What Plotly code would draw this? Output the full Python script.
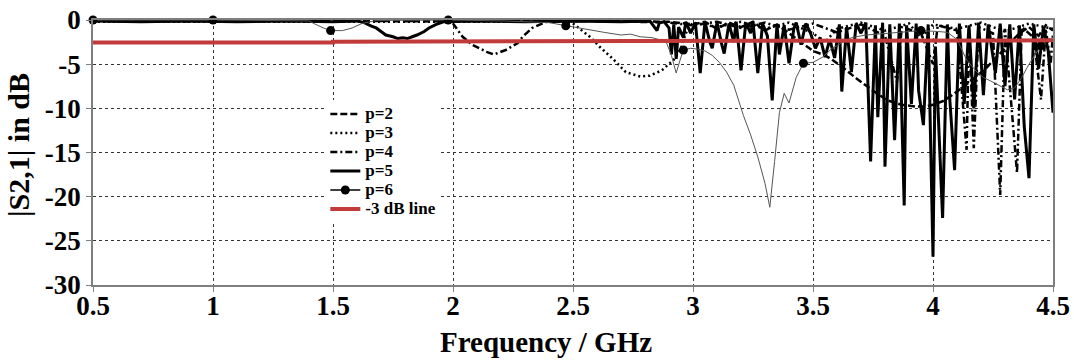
import plotly.graph_objects as go

# ---------------- data ----------------
# p=2 (dashed)
x_p2 = [0.5, 1.0, 1.5, 2.0, 2.5, 2.9, 3.0, 3.05, 3.1, 3.15, 3.2, 3.25, 3.3, 3.35, 3.4, 3.45,
        3.5, 3.55, 3.58, 3.63, 3.68, 3.75, 3.81, 3.87, 3.93, 3.97, 4.0, 4.04, 4.08, 4.13,
        4.18, 4.22, 4.24, 4.28, 4.32, 4.36, 4.4, 4.44, 4.47, 4.5]
y_p2 = [-0.1, -0.15, -0.1, -0.15, -0.1, -0.2, -0.5, -0.2, -1.0, -0.3, -0.8, -0.2, -1.2, -0.5, -1.5, -2.5,
        -3.5, -4.0, -4.5, -5.5, -6.6, -8.0, -9.1, -9.6, -9.8, -9.8, -9.6, -9.2, -8.5, -7.5,
        -6.4, -5.5, -4.9, -3.8, -2.6, -1.5, -0.8, -1.8, -0.6, -1.2]

# p=3 (dotted)
x_p3 = [0.5, 1.0, 1.5, 2.0, 2.45, 2.5, 2.54, 2.57, 2.61, 2.67, 2.72, 2.78, 2.82, 2.87, 2.92, 2.95,
        2.97, 3.0, 3.1, 3.2, 3.3, 3.4, 3.5, 3.55, 3.6, 3.7, 3.8, 3.9, 3.95, 4.0, 4.1, 4.2, 4.3,
        4.4, 4.5]
y_p3 = [-0.2, -0.2, -0.2, -0.2, -0.2, -0.4, -1.2, -1.9, -3.0, -4.5, -5.9, -6.4, -6.3, -5.7, -4.5, -3.2,
        -1.5, -0.3, -0.8, -0.2, -1.0, -0.3, -1.5, -2.5, -1.0, -0.3, -1.2, -0.4, -2.0, -0.5, -1.0, -0.3, -1.3,
        -0.4, -1.0]

# p=4 (dash-dot)
x_p4 = [0.5, 1.0, 1.5, 1.97, 2.0, 2.04, 2.08, 2.14, 2.17, 2.22, 2.27, 2.29, 2.33, 2.39, 2.6, 2.9,
        3.0, 3.1, 3.2, 3.3, 3.4, 3.5, 3.6, 3.7, 3.8, 3.85, 3.87, 3.95, 4.0, 4.02, 4.1, 4.14, 4.15,
        4.17, 4.19, 4.25, 4.28, 4.3, 4.35, 4.37, 4.42, 4.45, 4.47, 4.49, 4.5]
y_p4 = [-0.1, -0.1, -0.1, -0.1, -0.4, -1.9, -2.8, -3.6, -3.9, -3.4, -2.6, -1.9, -0.9, -0.2, -0.1, -0.3,
        -0.6, -0.2, -0.9, -0.3, -1.1, -0.4, -1.4, -0.5, -1.8, -7.0, -0.8, -1.5, -5.0, -0.6, -1.2, -14.7, -1.0,
        -14.5, -0.8, -1.5, -19.8, -1.0, -17.3, -0.8, -2.0, -9.0, -1.0, -5.0, -1.5]

# p=5 (thick solid)
x_p5 = [0.5, 0.7, 0.9, 1.1, 1.3, 1.5, 1.6, 1.63, 1.66, 1.68, 1.7, 1.72, 1.75, 1.77, 1.79, 1.81,
        1.83, 1.85, 1.88, 1.9, 1.93, 1.96, 2.1, 2.3, 2.5, 2.7, 2.82, 2.84, 2.85, 2.86, 2.88, 2.9,
        2.91, 2.92, 2.93, 2.94, 2.96, 2.97, 2.99, 3.01, 3.03, 3.05, 3.07, 3.08, 3.1, 3.12, 3.13,
        3.15, 3.17, 3.18, 3.2, 3.22, 3.24, 3.25, 3.27, 3.29, 3.31, 3.33, 3.35, 3.36, 3.38, 3.4,
        3.42, 3.43, 3.45, 3.47, 3.49, 3.51, 3.53, 3.55, 3.57, 3.59, 3.61, 3.62, 3.64, 3.66, 3.68,
        3.7, 3.72, 3.74, 3.76, 3.77, 3.79, 3.8, 3.82, 3.84, 3.86, 3.88, 3.89, 3.91, 3.93, 3.94,
        3.96, 3.98, 4.0, 4.01, 4.02, 4.04, 4.06, 4.07, 4.09, 4.11, 4.13, 4.15, 4.17, 4.19, 4.21,
        4.23, 4.26, 4.28, 4.3, 4.32, 4.34, 4.36, 4.38, 4.4, 4.42, 4.44, 4.46, 4.48, 4.5]
y_p5 = [-0.1, -0.2, -0.1, -0.2, -0.1, -0.2, -0.1, -0.3, -0.7, -0.9, -1.3, -1.7, -1.9, -2.1, -2.0, -2.1,
        -1.9, -1.7, -1.3, -0.9, -0.5, -0.2, -0.1, -0.2, -0.1, -0.2, -0.1, -0.8, -1.2, -0.3, -0.2, -0.9,
        -3.9, -0.5, -4.4, -0.8, -2.0, -0.2, -1.5, -0.3, -6.0, -0.2, -2.5, -3.2, -0.3, -2.8, -3.8,
        -0.4, -2.5, -0.2, -5.7, -0.3, -1.5, -0.2, -6.0, -0.4, -1.8, -9.1, -0.5, -3.9, -0.6, -4.9,
        -1.0, -0.3, -2.8, -0.4, -1.5, -3.2, -2.0, -4.2, -2.2, -4.3, -0.5, -8.1, -0.8, -5.9, -0.4,
        -1.5, -0.3, -16.0, -0.6, -11.0, -0.3, -16.6, -0.5, -13.6, -0.4, -21.0, -0.6, -9.5, -0.4, -8.0,
        -11.9, -0.5, -26.8, -3.0, -10.0, -22.4, -0.5, -9.0, -17.0, -0.4, -9.5, -0.6, -10.0, -0.3, -8.5,
        -0.5, -6.0, -0.4, -7.5, -0.5, -9.0, -0.6, -12.0, -17.9, -0.5, -5.5, -0.8, -3.5, -10.5]

# p=6 (thin solid with markers)
x_p6 = [0.5, 1.0, 1.4, 1.42, 1.46, 1.49, 1.54, 1.58, 1.62, 1.68, 1.98, 2.2, 2.4, 2.47, 2.52, 2.57,
        2.63, 2.7, 2.74, 2.78, 2.83, 2.87, 2.89, 2.91, 2.93, 2.95, 2.96, 2.99, 3.02, 3.05, 3.08,
        3.11, 3.14, 3.17, 3.21, 3.24, 3.27, 3.3, 3.32, 3.34, 3.36, 3.38, 3.4, 3.43, 3.46, 3.5,
        3.54, 3.58, 3.62, 3.66, 3.72, 3.8, 3.9, 3.95, 4.02, 4.06, 4.1, 4.14, 4.18, 4.21, 4.24,
        4.28, 4.31, 4.34, 4.37, 4.4, 4.43, 4.45, 4.48, 4.5]
y_p6 = [0.0, 0.0, -0.1, -0.4, -0.9, -1.2, -1.2, -0.9, -0.4, -0.05, 0.0, -0.1, -0.3, -0.65, -0.9, -1.1,
        -1.4, -1.7, -1.6, -1.9, -2.0, -2.3, -2.6, -4.0, -6.0, -4.2, -3.4, -3.2, -3.3, -3.5, -4.0,
        -4.8, -5.9, -7.4, -10.8, -13.0, -15.5, -18.5, -21.2, -16.0, -10.5, -8.3, -9.4, -6.5, -4.9, -4.8,
        -4.2, -3.2, -2.6, -2.0, -1.7, -1.5, -1.3, -1.2, -1.3, -1.4, -2.2, -4.5, -5.8, -6.5, -6.9,
        -7.5, -7.9, -7.7, -6.5, -5.0, -3.8, -2.9, -2.2, -2.0]
x_p6_markers = [0.5, 1.0, 1.49, 1.98, 2.47, 2.96, 3.46, 3.95, 4.45]
y_p6_markers = [0.0, 0.0, -1.2, 0.0, -0.65, -3.4, -4.9, -1.2, -2.9]

# -3 dB reference line
x_ref = [0.5, 1.5, 1.5, 4.5]
y_ref = [-2.55, -2.55, -2.45, -2.3]

x_ticks = [0.5, 1, 1.5, 2, 2.5, 3, 3.5, 4, 4.5]
x_tick_labels = ["0.5", "1", "1.5", "2", "2.5", "3", "3.5", "4", "4.5"]
y_ticks = [0, -5, -10, -15, -20, -25, -30]
y_tick_labels = ["0", "-5", "-10", "-15", "-20", "-25", "-30"]

series_names = ["p=2", "p=3", "p=4", "p=5", "p=6", "-3 dB line"]
x_title = "Frequency / GHz"
y_title = "|S2,1| in dB"

# ---------------- figure ----------------
FONT = "Liberation Serif, Times New Roman, serif"
LEG_PX = 17


def leg(name):
    return f'<span style="font-size:{LEG_PX}px">{name}</span>'


fig = go.Figure()

fig.add_trace(go.Scatter(x=x_p5, y=y_p5, mode="lines", name=leg(series_names[3]), legendrank=4,
                         line=dict(color="black", width=3)))
fig.add_trace(go.Scatter(x=x_p2, y=y_p2, mode="lines", name=leg(series_names[0]), legendrank=1,
                         line=dict(color="black", width=2.5, dash="7px,3px")))
fig.add_trace(go.Scatter(x=x_p3, y=y_p3, mode="lines", name=leg(series_names[1]), legendrank=2,
                         line=dict(color="black", width=2.5, dash="2px,3px")))
fig.add_trace(go.Scatter(x=x_p4, y=y_p4, mode="lines", name=leg(series_names[2]), legendrank=3,
                         line=dict(color="black", width=2.5, dash="7px,3px,2px,3px")))
fig.add_trace(go.Scatter(x=x_p6, y=y_p6, mode="lines", name=series_names[4], showlegend=False,
                         line=dict(color="#555555", width=1)))
fig.add_trace(go.Scatter(x=x_p6_markers, y=y_p6_markers, mode="markers", name=series_names[4],
                         showlegend=False, cliponaxis=False,
                         marker=dict(color="black", size=9)))
fig.add_trace(go.Scatter(x=[None], y=[None], mode="lines+markers", name=leg(series_names[4]),
                         legendrank=5,
                         line=dict(color="black", width=1.5), marker=dict(color="black", size=9)))
fig.add_trace(go.Scatter(x=x_ref, y=y_ref, mode="lines", name=leg(series_names[5]), legendrank=6,
                         line=dict(color="#c23b3b", width=4)))

axis_common = dict(
    automargin=False,
    showline=True, linecolor="#7f7f7f", linewidth=1.5, mirror=True,
    ticks="outside", ticklen=5, tickcolor="#7f7f7f",
    showgrid=True, gridcolor="#333333", gridwidth=1, griddash="dot",
    zeroline=False,
    tickfont=dict(family=FONT, size=27, color="black", weight="bold"),
)

fig.update_layout(
    width=1074, height=361,
    margin=dict(l=93, r=21, t=20, b=76, autoexpand=False),
    paper_bgcolor="white", plot_bgcolor="white",
    font=dict(family=FONT, color="black"),
    xaxis=dict(range=[0.5, 4.5], tickvals=x_ticks, ticktext=x_tick_labels,
               ticklabelstandoff=-9, **axis_common),
    yaxis=dict(range=[-30, 0], tickvals=y_ticks, ticktext=y_tick_labels,
               **axis_common),
    legend=dict(x=0.242, y=0.70, xanchor="left", yanchor="top",
                bgcolor="white", borderwidth=0,
                font=dict(family=FONT, size=12, color="black", weight="bold"),
                tracegroupgap=0, itemwidth=30),
    showlegend=True,
    annotations=[
        dict(text=x_title, xref="paper", yref="paper", x=0.4719, y=-0.215,
             xanchor="center", yanchor="middle", showarrow=False,
             font=dict(family=FONT, size=29, color="black", weight="bold")),
        dict(text=y_title, xref="paper", yref="paper", x=-0.0781, y=0.528,
             xanchor="center", yanchor="middle", showarrow=False, textangle=-90,
             font=dict(family=FONT, size=30, color="black", weight="bold")),
    ],
)

fig.write_html("out.html", config={"displayModeBar": False},
               post_script="document.body.style.margin='0';")
